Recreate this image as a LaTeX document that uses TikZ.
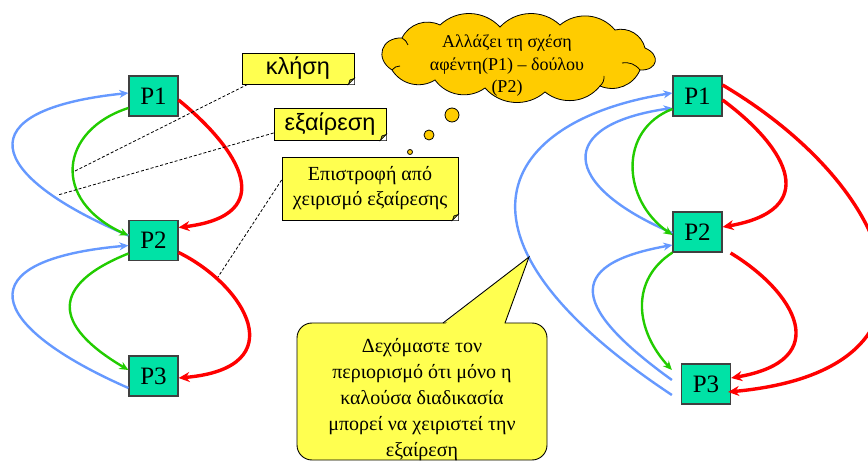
\documentclass[tikz,border=0pt]{standalone}
\usepackage{fontspec}
\setmainfont{Liberation Serif}
\newfontfamily\arialf{Liberation Sans}
\usetikzlibrary{arrows.meta}
\definecolor{pfill}{RGB}{0,226,166}
\definecolor{yfill}{RGB}{255,255,80}
\definecolor{cfill}{RGB}{255,204,0}
\definecolor{cblue}{RGB}{102,153,255}
\definecolor{cgreen}{RGB}{34,204,0}
\definecolor{cred}{RGB}{255,0,0}
\begin{document}
\begin{tikzpicture}[x=1pt,y=-1pt,
  pbox/.style={draw=black!75,line width=1.2pt,fill=pfill,minimum width=49pt,minimum height=40pt,inner sep=0pt,font=\fontsize{25}{30}\selectfont},
  ybox/.style={draw=black,line width=0.8pt,fill=yfill,inner sep=0pt},
  bluearr/.style={draw=cblue,line width=2.4pt,-{Stealth[length=9pt,width=8pt]}},
  greenarr/.style={draw=cgreen,line width=2.4pt,-{Stealth[length=9pt,width=8pt]}},
  redarr/.style={draw=cred,line width=3.4pt,-{Stealth[length=11pt,width=10pt]}},
  dashline/.style={draw=black,line width=0.8pt,dash pattern=on 3pt off 2pt},
  bub/.style={draw=black,line width=0.8pt,fill=cfill},
  curl/.style={draw=black,line width=0.8pt},
  puff/.style={bend left=45}]
\useasboundingbox (0,0) rectangle (868,462);
\clip (0,0) rectangle (868,462);

% ---------- left diagram ----------
\node[pbox] (L1) at (153.5,96) {P1};
\node[pbox] (L2) at (153.5,240.5) {P2};
\node[pbox] (L3) at (153.5,376) {P3};

\draw[bluearr] ([yshift=5pt]L2.west) .. controls (-15,175) and (-35,110) .. ([yshift=3pt]L1.west);
\draw[greenarr] ([yshift=-12pt]L1.west) .. controls (60,130) and (50,200) .. ([yshift=5pt]L2.west);
\draw[redarr] ([yshift=-4pt]L1.east) .. controls (240,150) and (280,215) .. ([yshift=13pt]L2.east);
\draw[bluearr] ([yshift=-12pt]L3.west) .. controls (-15,325) and (-35,260) .. ([yshift=-5pt]L2.west);
\draw[greenarr] ([yshift=-13pt]L2.west) .. controls (50,285) and (52,325) .. ([yshift=6pt]L3.west);
\draw[redarr] ([yshift=-12pt]L2.east) .. controls (245,285) and (295,368) .. ([yshift=-2pt]L3.east);

% ---------- labels ----------
\node[ybox,minimum width=112pt,minimum height=31pt,font=\arialf\fontsize{23.5}{28}\selectfont] (K) at (298,68.5) {κλήση};
\node[ybox,minimum width=112pt,minimum height=32pt,font=\arialf\fontsize{23.5}{28}\selectfont] (E) at (330,124) {εξαίρεση};
\node[ybox,minimum width=176pt,minimum height=63pt,align=center,font=\fontsize{20}{25}\selectfont] (X) at (370,188.5) {Επιστροφή από\\χειρισμό εξαίρεσης};
\foreach \b in {K,E,X}{
  \fill[white] ([xshift=-6pt]\b.south east) -- (\b.south east) -- ([yshift=6pt]\b.south east) -- cycle;
  \filldraw[fill=yfill!55!black,draw=black,line width=0.6pt] ([xshift=-6pt]\b.south east) -- ([xshift=-4.5pt,yshift=4.5pt]\b.south east) -- ([yshift=6pt]\b.south east) -- cycle;
}
\coordinate (dk) at (73,172);
\coordinate (de) at (58,195);
\coordinate (dx) at (218,277);
\draw[dashline] ([xshift=6pt]K.south west) -- (dk);
\draw[dashline] ([yshift=-9pt]E.west) -- (de);
\draw[dashline] ([yshift=8.5pt]X.west) -- (dx);

% ---------- thought cloud ----------
\draw[bub] (392,70) to[bend left=75,looseness=1.6] (402,38)
  to[puff] (440,25) to[puff] (500,27) to[puff] (560,25) to[puff] (615,30)
  to[puff] (645,48) to[bend left=80,looseness=2] (640,70)
  to[puff] (600,86) to[puff] (545,92) to[puff] (485,88) to[puff] (435,80)
  to[puff] (392,70) -- cycle;
\draw[curl] (402,38) to[bend left=20] (408,45);
\draw[curl] (392,70) to[bend left=25] (400,66);
\draw[curl] (600,86) to[bend right=25] (604,76);
\draw[curl] (640,70) to[bend right=30] (622,63);
\node[align=center,font=\fontsize{18}{22.5}\selectfont] (CT) at (507,66) {Αλλάζει τη σχέση\\αφέντη(P1) – δούλου\\(P2)};
\node[circle,bub,minimum size=14pt,inner sep=0pt] (b1) at (452,115) {};
\node[circle,bub,minimum size=10pt,inner sep=0pt] (b2) at (429,135) {};
\node[circle,bub,minimum size=5pt,inner sep=0pt] (b3) at (410,152) {};

% ---------- right diagram ----------
\node[pbox] (R1) at (697.5,96) {P1};
\node[pbox] (R2) at (697.5,232) {P2};
\node[pbox] (R3) at (706,384) {P3};

\coordinate (r3o) at ([xshift=-9pt,yshift=-11pt]R3.west);
\coordinate (r3i) at ([xshift=-9pt,yshift=4pt]R3.west);
\coordinate (r3g) at ([xshift=-9pt,yshift=14pt]R3.west);
\coordinate (r2a) at ([xshift=8pt,yshift=-21pt]R2.east);

\draw[bluearr] (r3o) .. controls (430,235) and (500,120) .. ([yshift=3pt]R1.west);
\draw[bluearr] ([yshift=-1pt]R2.west) .. controls (560,185) and (555,125) .. ([yshift=-12pt]R1.west);
\draw[greenarr] ([yshift=-13pt]R1.west) .. controls (618,130) and (622,200) .. ([yshift=-3pt]R2.west);
\draw[redarr] ([yshift=-4pt]R1.east) .. controls (790,150) and (820,210) .. ([yshift=5pt]R2.east);
\draw[redarr] ([yshift=11pt]R1.east) .. controls (900,190) and (965,370) .. ([xshift=-3pt,yshift=-8pt]R3.east);
\draw[bluearr] (r3i) .. controls (575,310) and (560,265) .. ([yshift=-13pt]R2.west);
\draw[greenarr] (R2.south west) .. controls (630,280) and (635,330) .. (r3g);
\draw[redarr] (r2a) .. controls (795,292) and (835,360) .. ([yshift=6pt]R3.east);

% ---------- callout ----------
\coordinate (tip) at (529,257);
\fill[yfill] (443,324) -- (tip) -- (505,324) -- cycle;
\node[draw=black,line width=0.9pt,fill=yfill,rounded corners=15pt,minimum width=250pt,minimum height=137pt,inner sep=0pt] (B) at (422,391.5) {};
\fill[yfill] (444,325) -- (tip) -- (504,325) -- cycle;
\draw[black,line width=0.9pt,line join=miter] (443,323) -- (tip) -- (505,323);
\node[align=center,font=\fontsize{20}{26}\selectfont] (BT) at (422,400) {Δεχόμαστε τον\\περιορισμό ότι μόνο η\\καλούσα διαδικασία\\μπορεί να χειριστεί την\\εξαίρεση};
\end{tikzpicture}
\end{document}
